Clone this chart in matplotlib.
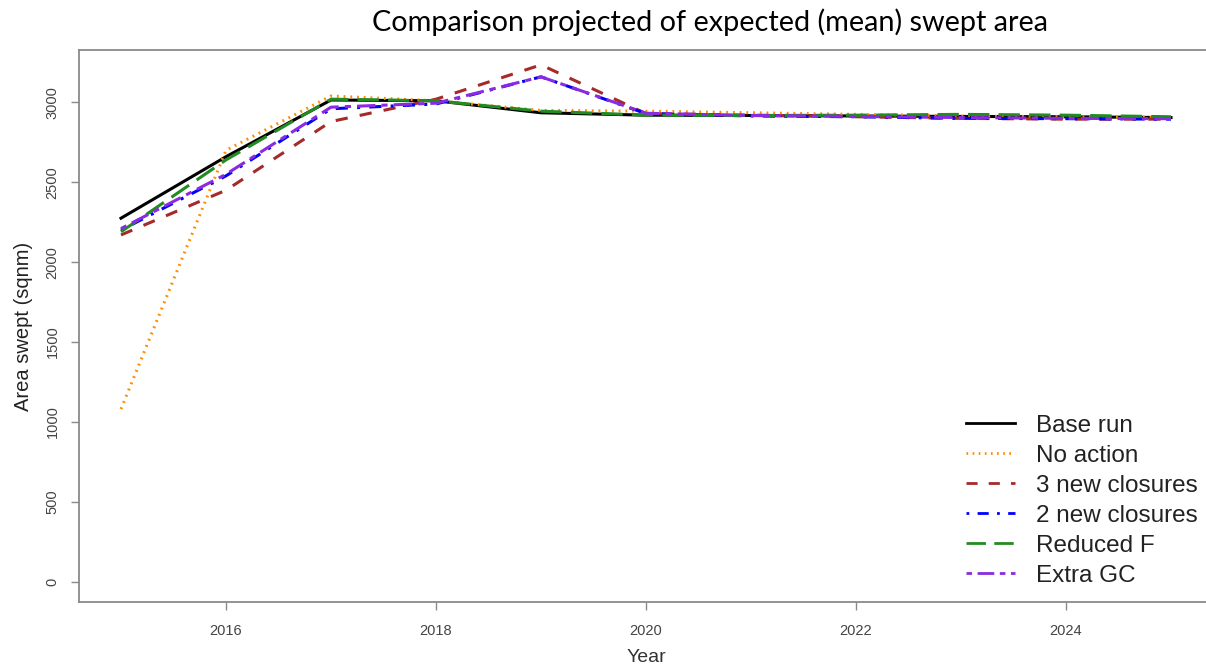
import matplotlib
matplotlib.use("Agg")
import matplotlib.pyplot as plt

years = list(range(2015, 2026))

base_run = [2275, 2660, 3015, 3010, 2935, 2920, 2918, 2915, 2912, 2910, 2905]
no_action = [1080, 2700, 3040, 3010, 2950, 2945, 2935, 2925, 2915, 2910, 2905]
closures_3 = [2170, 2450, 2880, 3020, 3235, 2930, 2920, 2910, 2900, 2895, 2895]
closures_2 = [2200, 2540, 2960, 2990, 3160, 2930, 2915, 2910, 2900, 2898, 2895]
reduced_f = [2190, 2640, 3020, 3010, 2945, 2920, 2918, 2920, 2925, 2920, 2910]
extra_gc = [2210, 2550, 2970, 2995, 3160, 2932, 2918, 2912, 2905, 2900, 2898]

labels = ["Base run", "No action", "3 new closures", "2 new closures",
          "Reduced F", "Extra GC"]
series = [base_run, no_action, closures_3, closures_2, reduced_f, extra_gc]
colors = ["black", "#FF8C00", "#A52A2A", "#0000FF", "#228B22", "#8A2BE2"]
# R line types: solid, dotted, dashed, dotdash, longdash, twodash
styles = ["-", (0, (0.6, 1.6)), (0, (4, 4)), (0, (1, 3, 4, 3)),
          (0, (7, 3)), (0, (2, 2, 6, 2))]

plt.rcParams["font.family"] = ["Liberation Sans", "DejaVu Sans"]

fig = plt.figure(figsize=(12.06, 6.71), dpi=100)
ax = fig.add_axes([79 / 1206, 1 - 602 / 671, (1213 - 79) / 1206, (602 - 50) / 671])

for vals, lab, col, ls in zip(series, labels, colors, styles):
    ax.plot(years, vals, color=col, linestyle=ls, linewidth=2.2, label=lab)

ax.set_xlim(2014.6, 2025.4)
ax.set_ylim(-128, 3328)
ax.set_xticks([2016, 2018, 2020, 2022, 2024])
ax.set_yticks([0, 500, 1000, 1500, 2000, 2500, 3000])

for s in ax.spines.values():
    s.set_color("#8a8a8a")
    s.set_linewidth(1.3)
ax.tick_params(colors="#8a8a8a", labelcolor="#444444", labelsize=10.5, length=6, width=1)
for t in ax.get_yticklabels():
    t.set_rotation(90)
    t.set_va("center")
ax.tick_params(axis="x", pad=10)
ax.tick_params(axis="y", pad=8)

ax.set_xlabel("Year", fontsize=14, color="#333333")
ax.xaxis.set_label_coords((646 - 79) / 1134, -0.085)
ax.set_ylabel("Area swept (sqnm)", fontsize=14.5, color="#222222")
ax.yaxis.set_label_coords(-(79 - 33) / 1134, 0.5)

fig.text(710 / 1206, 1 - 22 / 671, "Comparison projected of expected (mean) swept area",
         ha="center", va="center", fontsize=20.8, family=["Lato", "DejaVu Sans"])

leg = ax.legend(loc="lower left", bbox_to_anchor=(966 / 1206, (671 - 587) / 671),
                bbox_transform=fig.transFigure, frameon=False, fontsize=17.5,
                handlelength=2.0, handletextpad=0.9, labelspacing=0.33,
                borderpad=0, borderaxespad=0)
for t in leg.get_texts():
    t.set_color("#222222")
for h in leg.get_lines():
    h.set_linewidth(2.0)

fig.savefig("out.png", dpi=100)
